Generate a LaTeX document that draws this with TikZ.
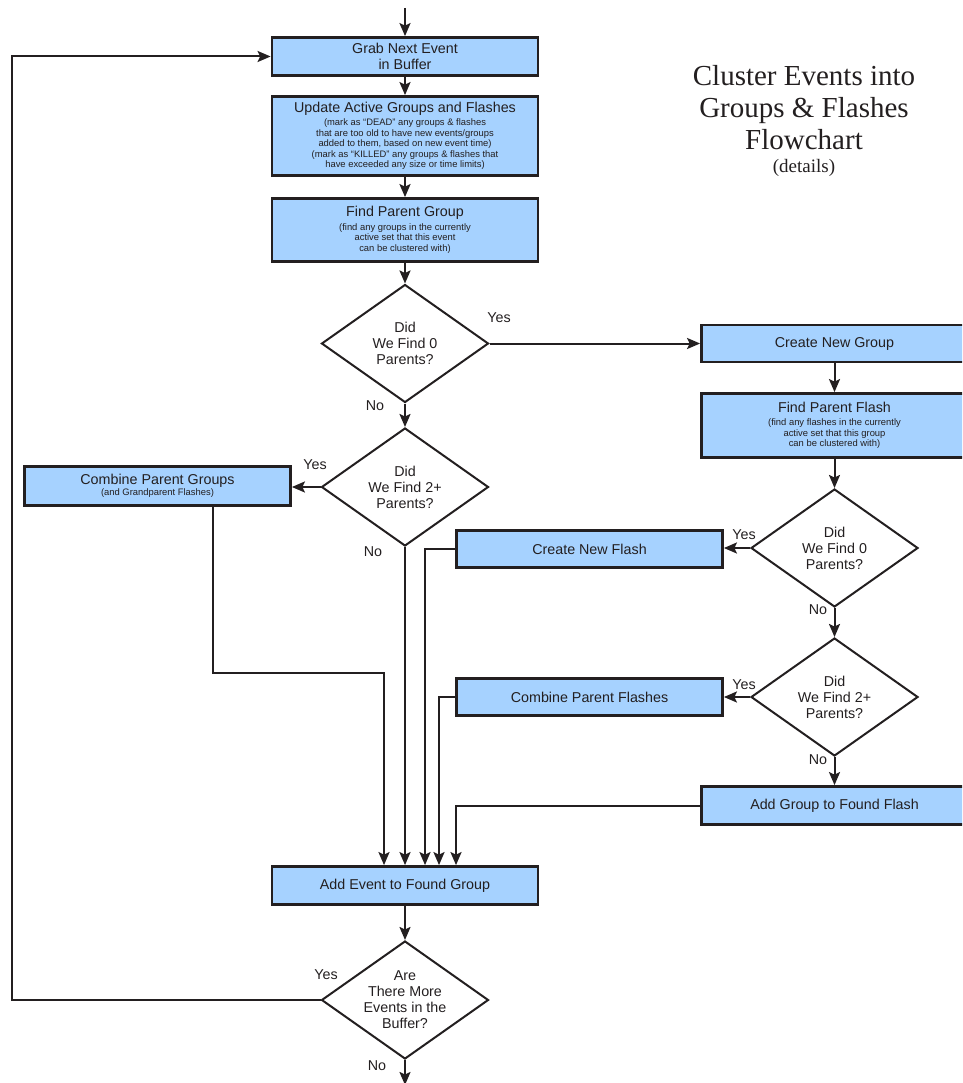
\documentclass[tikz,border=0pt]{standalone}
\usepackage{fontspec}
\setmainfont{Liberation Sans}
\newfontfamily\titlefont{Liberation Serif}
\usetikzlibrary{shapes.geometric,arrows.meta,calc}
\definecolor{ink}{HTML}{231F20}
\definecolor{boxblue}{HTML}{A6D2FF}
\newcommand{\bigf}{\fontsize{14.3pt}{16pt}\selectfont}
\newcommand{\smf}{\fontsize{9.4pt}{10.5pt}\selectfont}
\begin{document}
\begin{tikzpicture}[x=1pt,y=-1pt,
  box/.style={draw=ink, fill=boxblue, line width=2.8pt, minimum width=266pt, inner sep=0pt, align=center, text=ink, font=\bigf},
  dia/.style={diamond, draw=ink, fill=white, line width=2pt, minimum width=167pt, minimum height=118pt, aspect=1.415, inner sep=0pt, align=center, font=\bigf, text=ink},
  arr/.style={draw=ink, line width=2pt, -{Stealth[length=13pt,width=11pt,inset=2.5pt]}},
  lbl/.style={font=\bigf, text=ink, inner sep=0pt}]
\useasboundingbox (0,0) rectangle (962,1083);
\clip (0,0) rectangle (962,1083);
% title
\node[anchor=north, align=center, inner sep=0pt, text=ink, font=\titlefont\fontsize{29pt}{32pt}\selectfont] (title) at (804,65)
  {Cluster Events into\\Groups \& Flashes\\Flowchart\\[-9pt]{\fontsize{19pt}{20pt}\selectfont (details)}};
% nodes
\node[box, minimum height=38pt] (grab) at (405,56.5) {Grab Next Event\\in Buffer};
\node[box, minimum height=79pt, font=\smf] (update) at (405,136)
  {{\bigf Update Active Groups and Flashes}\\[3pt]
   (mark as “DEAD” any groups \& flashes\\
   that are too old to have new events/groups\\
   added to them, based on new event time)\\
   (mark as “KILLED” any groups \& flashes that\\
   have exceeded any size or time limits)};
\node[box, minimum height=63pt, font=\smf] (findpg) at (405,230)
  {{\bigf Find Parent Group}\\[3pt]
   (find any groups in the currently\\
   active set that this event\\
   can be clustered with)};
\node[dia] (d1) at (405,343.5) {Did\\We Find 0\\Parents?};
\node[box, minimum height=37pt] (cng) at (834.5,343.5) {Create New Group};
\node[box, minimum height=64pt, font=\smf] (fpf) at (834.5,425.5)
  {{\bigf Find Parent Flash}\\[3pt]
   (find any flashes in the currently\\
   active set that this group\\
   can be clustered with)};
\node[dia] (d2) at (405,487) {Did\\We Find 2+\\Parents?};
\node[box, minimum height=39pt, font=\smf] (cpg) at (157.5,486)
  {{\bigf Combine Parent Groups}\\[1pt](and Grandparent Flashes)};
\node[dia] (d3) at (834.5,548) {Did\\We Find 0\\Parents?};
\node[box, minimum height=37pt] (cnf) at (589.5,549) {Create New Flash};
\node[dia] (d4) at (834.5,697) {Did\\We Find 2+\\Parents?};
\node[box, minimum height=37pt] (cpf) at (589.5,697) {Combine Parent Flashes};
\node[box, minimum height=38pt] (agf) at (834.5,805.5) {Add Group to Found Flash};
\node[box, minimum height=38pt] (aeg) at (405,885.5) {Add Event to Found Group};
\node[dia] (d5) at (405,1000) {Are\\There More\\Events in the\\Buffer?};
% labels
\node[lbl] (y1) at (499,318) {Yes};
\node[lbl] (n1) at (375,406) {No};
\node[lbl] (y2) at (315,465) {Yes};
\node[lbl] (n2) at (373,552) {No};
\node[lbl] (y3) at (744,535) {Yes};
\node[lbl] (n3) at (818,610) {No};
\node[lbl] (y4) at (744,685) {Yes};
\node[lbl] (n4) at (818,760) {No};
\node[lbl] (y5) at (326,975) {Yes};
\node[lbl] (n5) at (377,1066) {No};
% coordinates
\coordinate (start) at (405,8);
\coordinate (finish) at (405,1085);
\coordinate (loopx) at (12,0);
\coordinate (j1) at (384,673);
% connectors
\draw[arr] (start) -- (grab);
\draw[arr] (grab) -- (update);
\draw[arr] (update) -- (findpg);
\draw[arr] (findpg) -- (d1);
\draw[arr] (d1.east) -- (cng.west);
\draw[arr] (cng) -- (fpf);
\draw[arr] (fpf) -- (d3);
\draw[arr] (d3.west) -- (d3.west -| cnf.east);
\draw[arr] (d3) -- (d4);
\draw[arr] (d4.west) -- (cpf.east);
\draw[arr] (d4) -- (agf);
\draw[arr] (d1) -- (d2);
\draw[arr] (d2.west) -- (d2.west -| cpg.east);
\draw[arr] ([xshift=55.5pt]cpg.south) |- (j1) -- (j1 |- aeg.north);
\draw[arr] (d2.south) -- (aeg.north);
\draw[arr] (cnf.west) -| ([xshift=20pt]aeg.north);
\draw[arr] (cpf.west) -| ([xshift=34pt]aeg.north);
\draw[arr] (agf.west) -| ([xshift=51pt]aeg.north);
\draw[arr] (aeg) -- (d5);
\draw[arr] (d5.west) -- (d5.west -| loopx) -- (grab.west -| loopx) -- (grab.west);
\draw[arr] (d5.south) -- (finish);
\end{tikzpicture}
\end{document}
